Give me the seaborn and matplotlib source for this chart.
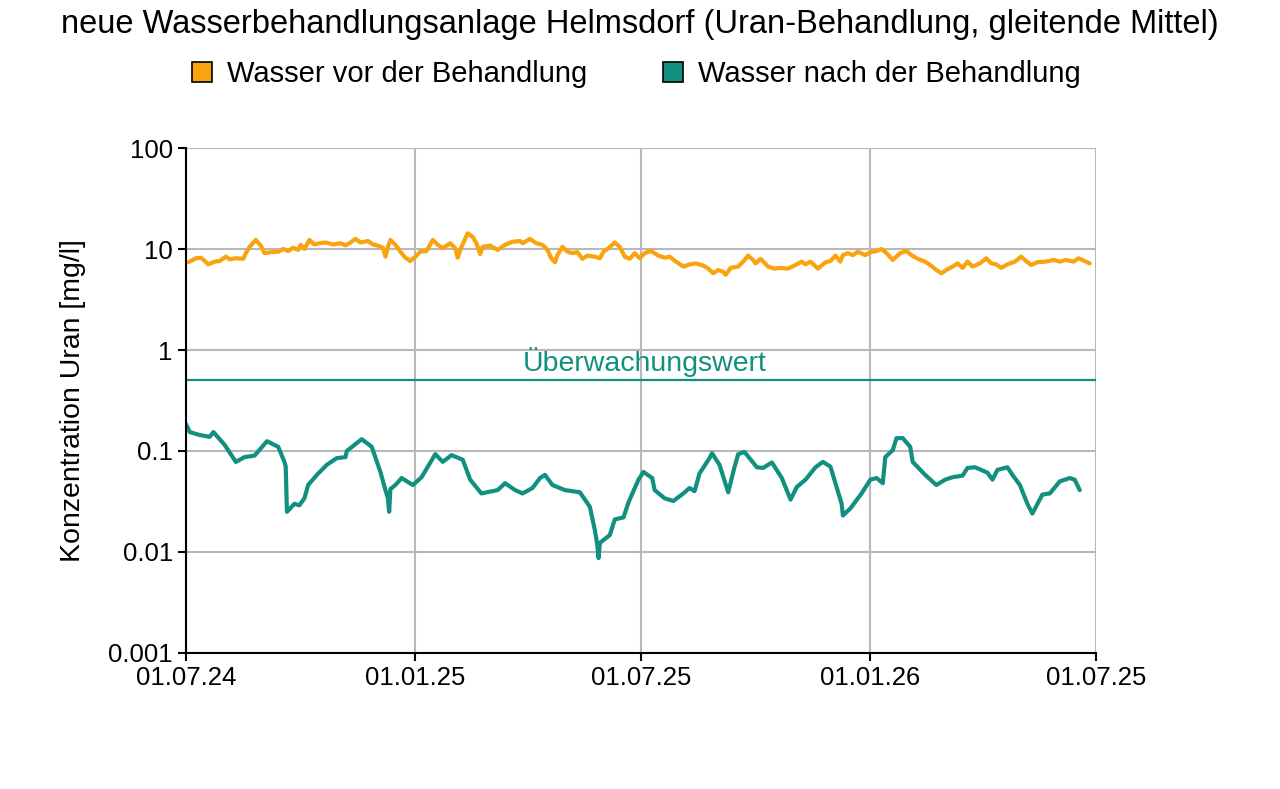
import pandas as pd
import matplotlib
matplotlib.use("Agg")
import matplotlib.pyplot as plt
from matplotlib.lines import Line2D
import seaborn as sns

# Daten (Tage seit 01.07.2024, Konzentration in mg/l)
tage_vor = [2, 8, 12, 18, 23, 27, 32, 35, 40, 46, 48, 51, 56, 60, 63, 68, 74, 78, 82, 86,
            90, 92, 95, 99, 103, 107, 112, 118, 124, 128, 132, 136, 140, 146, 150, 154, 158, 160, 162, 164,
            168, 172, 176, 180, 184, 188, 193, 198, 202, 206, 212, 216, 218, 221, 226, 230, 233, 236, 238, 244,
            250, 256, 262, 268, 270, 276, 281, 286, 290, 293, 296, 298, 302, 306, 310, 314, 318, 322, 328, 332,
            335, 339, 344, 348, 352, 356, 360, 364, 368, 373, 379, 384, 388, 393, 399, 404, 409, 415, 419, 423,
            427, 431, 433, 437, 443, 447, 451, 455, 457, 461, 467, 472, 477, 483, 489, 494, 497, 501, 507, 513,
            517, 521, 525, 527, 531, 535, 539, 545, 549, 554, 558, 562, 567, 573, 578, 582, 587, 593, 597, 602,
            606, 610, 615, 619, 623, 627, 631, 637, 642, 646, 650, 654, 659, 665, 670, 674, 678, 683, 690, 696,
            701, 706, 712, 716, 721, 725]
uran_vor = [7.4, 8.1, 8.2, 7.05, 7.5, 7.6, 8.4, 7.9, 8.1, 8.0, 9.1, 10.5, 12.3, 10.8, 9.1, 9.3, 9.4, 10.0, 9.55, 10.3,
            9.8, 11.0, 10.0, 12.3, 11.1, 11.4, 11.6, 11.1, 11.4, 10.9, 11.6, 12.6, 11.6, 12.0, 11.1, 10.8, 10.3, 8.4, 10.5, 12.3,
            11.0, 9.4, 8.2, 7.6, 8.4, 9.4, 9.55, 12.3, 11.0, 10.2, 11.4, 10.2, 8.2, 10.5, 14.3, 13.2, 11.4, 8.9, 10.5, 10.8,
            9.8, 11.0, 11.8, 12.0, 11.4, 12.6, 11.4, 11.0, 9.8, 8.1, 7.4, 8.7, 10.5, 9.4, 9.1, 9.3, 8.0, 8.6, 8.4, 8.1,
            9.4, 10.2, 11.6, 10.5, 8.4, 8.0, 9.1, 8.1, 9.1, 9.55, 8.6, 8.2, 8.4, 7.5, 6.7, 7.05, 7.2, 6.85, 6.4, 5.75,
            6.2, 5.95, 5.55, 6.5, 6.7, 7.5, 8.6, 7.8, 7.2, 8.0, 6.7, 6.4, 6.5, 6.4, 6.95, 7.5, 7.05, 7.5, 6.4, 7.4,
            7.6, 8.6, 7.5, 8.7, 9.1, 8.7, 9.4, 8.7, 9.3, 9.55, 10.0, 9.1, 7.8, 9.1, 9.55, 8.7, 8.0, 7.5, 6.95, 6.2,
            5.75, 6.2, 6.7, 7.2, 6.5, 7.5, 6.7, 7.2, 8.1, 7.2, 7.05, 6.5, 7.05, 7.5, 8.4, 7.6, 6.95, 7.4, 7.5, 7.8,
            7.5, 7.8, 7.5, 8.1, 7.6, 7.2]

tage_nach = [0, 3, 11, 19, 22, 31, 40, 47, 55, 65, 74, 79, 80, 81, 87, 91, 95, 98, 105, 113,
             121, 128, 129, 141, 149, 156, 160, 162, 163, 164, 168, 173, 182, 189, 200, 206, 213, 222, 228, 237,
             250, 256, 264, 270, 278, 284, 288, 294, 304, 316, 324, 328, 330, 331, 332, 340, 344, 351, 355, 363,
             367, 374, 376, 384, 391, 399, 404, 408, 412, 420, 422, 428, 435, 440, 443, 448, 458, 463, 470, 478,
             485, 490, 497, 505, 511, 517, 521, 526, 527, 533, 542, 549, 554, 559, 561, 567, 570, 575, 581, 583,
             593, 602, 609, 615, 623, 627, 633, 643, 647, 651, 659, 663, 669, 675, 679, 687, 693, 701, 709, 713,
             717]
uran_nach = [0.185, 0.154, 0.144, 0.138, 0.154, 0.115, 0.078, 0.087, 0.09, 0.125, 0.11, 0.078, 0.07, 0.025, 0.030, 0.029, 0.034, 0.046, 0.058, 0.073,
             0.085, 0.087, 0.10, 0.131, 0.11, 0.062, 0.041, 0.034, 0.025, 0.042, 0.046, 0.054, 0.046, 0.055, 0.093, 0.078, 0.091, 0.082, 0.052, 0.038,
             0.041, 0.048, 0.041, 0.038, 0.043, 0.054, 0.058, 0.046, 0.041, 0.039, 0.028, 0.0165, 0.0117, 0.0087, 0.0123, 0.0147, 0.021, 0.022, 0.031, 0.052,
             0.062, 0.054, 0.041, 0.034, 0.032, 0.038, 0.043, 0.040, 0.060, 0.085, 0.095, 0.073, 0.039, 0.069, 0.093, 0.098, 0.069, 0.068, 0.077, 0.054,
             0.033, 0.044, 0.052, 0.069, 0.078, 0.070, 0.048, 0.030, 0.023, 0.027, 0.038, 0.052, 0.054, 0.048, 0.087, 0.102, 0.134, 0.134, 0.11, 0.078,
             0.058, 0.046, 0.052, 0.055, 0.057, 0.068, 0.069, 0.061, 0.052, 0.065, 0.069, 0.058, 0.046, 0.030, 0.024, 0.037, 0.038, 0.050, 0.054, 0.052,
             0.041]

ueberwachungswert = 0.5
tick_daten = ["2024-07-01", "2025-01-01", "2025-07-01", "2026-01-01", "2026-07-01"]
tick_texte = ["01.07.24", "01.01.25", "01.07.25", "01.01.26", "01.07.25"]
y_ticks = [0.001, 0.01, 0.1, 1, 10, 100]
y_texte = ["0.001", "0.01", "0.1", "1", "10", "100"]

farbe_vor = "#f9a30f"
farbe_nach = "#12907f"

start = pd.Timestamp("2024-07-01")
df_vor = pd.DataFrame({"Datum": start + pd.to_timedelta(tage_vor, unit="D"), "Uran": uran_vor})
df_nach = pd.DataFrame({"Datum": start + pd.to_timedelta(tage_nach, unit="D"), "Uran": uran_nach})

sns.set_style("white")
plt.rcParams['font.family'] = ['Liberation Sans', 'DejaVu Sans']
plt.rcParams['text.color'] = 'black'
plt.rcParams['axes.labelcolor'] = 'black'

fig = plt.figure(figsize=(12.8, 7.89), dpi=100)
ax = fig.add_axes([0.1453, 0.1724, 0.7109, 0.6400])

sns.lineplot(data=df_vor, x="Datum", y="Uran", color=farbe_vor, linewidth=3, ax=ax)
sns.lineplot(data=df_nach, x="Datum", y="Uran", color=farbe_nach, linewidth=3, ax=ax)
ax.axhline(ueberwachungswert, color=farbe_nach, linewidth=1.6)
ax.text(pd.Timestamp("2025-07-04"), 0.54, "Überwachungswert", color=farbe_nach,
        ha="center", va="bottom", fontsize=20.5)

ax.set_yscale("log")
ax.set_ylim(0.001, 100)
ax.set_yticks(y_ticks)
ax.set_yticklabels(y_texte)
ax.minorticks_off()
ax.set_xlim(pd.Timestamp(tick_daten[0]), pd.Timestamp(tick_daten[-1]))
ax.set_xticks(pd.to_datetime(tick_daten))
ax.set_xticklabels(tick_texte)

ax.grid(True, color="#b8b8b8", linewidth=1.5)
ax.set_axisbelow(True)
for s in ["top", "right"]:
    ax.spines[s].set_visible(False)
ax.spines["left"].set_color("black")
ax.spines["bottom"].set_color("black")
ax.spines["left"].set_linewidth(1.5)
ax.spines["bottom"].set_linewidth(1.5)
ax.tick_params(axis="both", which="major", length=6, width=1.5, color="black",
               labelsize=18.5, labelcolor="black", bottom=True, left=True)
ax.set_xlabel("")
ax.set_ylabel("Konzentration Uran [mg/l]", fontsize=20.5, labelpad=16)

fig.text(0.5, 1 - 25 / 789, "neue Wasserbehandlungsanlage Helmsdorf (Uran-Behandlung, gleitende Mittel)",
         ha="center", va="center", fontsize=23.5)

griffe = [Line2D([], [], linestyle="none", marker="s", markersize=14,
                 markerfacecolor=farbe_vor, markeredgecolor="black", markeredgewidth=1.2),
          Line2D([], [], linestyle="none", marker="s", markersize=14,
                 markerfacecolor=farbe_nach, markeredgecolor="black", markeredgewidth=1.2)]
fig.legend(griffe, ["Wasser vor der Behandlung", "Wasser nach der Behandlung"],
           loc="center", bbox_to_anchor=(0.497, 1 - 74 / 789), ncol=2, frameon=False,
           fontsize=21, handlelength=0.7, handletextpad=0.5, columnspacing=2.6)

fig.savefig("out.png", dpi=100)
